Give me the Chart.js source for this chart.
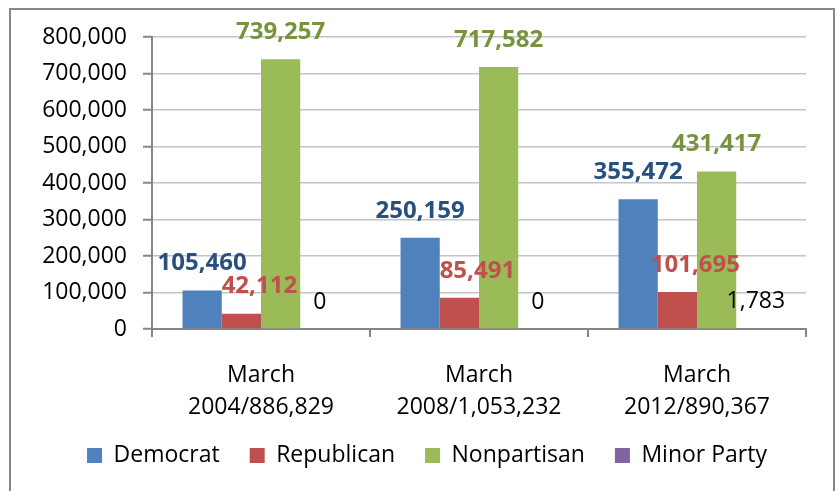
<!DOCTYPE html>
<html>
<head>
<meta charset="utf-8">
<script src="https://cdn.jsdelivr.net/npm/chart.js@4.4.1/dist/chart.umd.min.js"></script>
<style>
  html, body { margin: 0; padding: 0; background: #ffffff; }
  #wrap { position: relative; width: 839px; height: 491px; }
</style>
</head>
<body>
<div id="wrap"><canvas id="c" width="839" height="491"></canvas></div>
<script>
// ---- data ----
const categories = [["March", "2004/886,829"], ["March", "2008/1,053,232"], ["March", "2012/890,367"]];
const democrat    = [105460, 250159, 355472];
const republican  = [42112, 85491, 101695];
const nonpartisan = [739257, 717582, 431417];
const minorParty  = [0, 0, 1783];
const seriesNames = ["Democrat", "Republican", "Nonpartisan", "Minor Party"];
const yTicks = [0, 100000, 200000, 300000, 400000, 500000, 600000, 700000, 800000];

// ---- styles ----
const FONT = "'Open Sans', 'Noto Sans', sans-serif";
const barColors   = ["#4F81BD", "#C0504D", "#9BBB59", "#8064A2"];
const labelColors = ["#28507F", "#C0504D", "#77933C", "#000000"];
const labelBold   = [true, true, true, false];
const labelDx     = [0, 18, 0, 0];
const fmt = v => v.toLocaleString("en-US");

const dataLabels = {
  id: "dataLabels",
  afterDatasetsDraw(chart) {
    const ctx = chart.ctx;
    ctx.save();
    chart.data.datasets.forEach((ds, i) => {
      const meta = chart.getDatasetMeta(i);
      meta.data.forEach((bar, j) => {
        ctx.font = labelBold[i] ? "bold 24px " + FONT : "23px " + FONT;
        ctx.fillStyle = labelColors[i];
        ctx.textAlign = "center";
        ctx.textBaseline = "middle";
        ctx.fillText(fmt(ds.data[j]), bar.x + labelDx[i], bar.y - 27);
      });
    });
    ctx.restore();
  }
};

const frame = {
  id: "frame",
  afterInit(chart) {
    if (chart.legend) {
      const orig = chart.legend.fit;
      chart.legend.fit = function () {
        orig.call(this);
        this.height = 67;
      };
    }
  },
  afterLayout(chart) {
    const lg = chart.legend;
    if (lg) { lg.left += 24; lg.right += 24; lg.top -= 10; lg.bottom -= 10; }
  },
  afterDraw(chart) {
    const ctx = chart.ctx;
    ctx.save();
    ctx.strokeStyle = "#888888";
    ctx.lineWidth = 2;
    ctx.strokeRect(10, 9, 824, 490);
    ctx.restore();
  }
};

new Chart(document.getElementById("c"), {
  type: "bar",
  data: {
    labels: categories,
    datasets: [democrat, republican, nonpartisan, minorParty].map((d, i) => ({
      label: seriesNames[i],
      data: d,
      backgroundColor: barColors[i],
      borderWidth: 0,
      categoryPercentage: 0.72,
      barPercentage: 1.0
    }))
  },
  options: {
    responsive: false,
    animation: false,
    devicePixelRatio: 1,
    layout: { padding: { top: 37, right: 33, bottom: 0, left: 0 } },
    plugins: {
      legend: {
        position: "bottom",
        labels: {
          font: { family: FONT, size: 23 },
          color: "#000000",
          boxWidth: 15,
          boxHeight: 15,
          padding: 30
        }
      },
      tooltip: { enabled: false }
    },
    scales: {
      x: {
        offset: true,
        grid: {
          offset: true,
          drawOnChartArea: false,
          drawTicks: true,
          tickLength: 8,
          color: "#868686",
          lineWidth: 2
        },
        border: { color: "#868686", width: 2 },
        ticks: {
          font: { family: FONT, size: 23, lineHeight: 1.39 },
          color: "#000000",
          padding: 22,
          maxRotation: 0
        },
        afterFit(s) { s.height = 95; }
      },
      y: {
        min: 0,
        max: 800000,
        afterBuildTicks(s) { s.ticks = yTicks.map(v => ({ value: v })); },
        grid: {
          color: "#C4C4C4",
          lineWidth: 1.5,
          tickLength: 9,
          tickColor: "#868686",
          tickWidth: 2
        },
        border: { color: "#868686", width: 2 },
        ticks: {
          font: { family: FONT, size: 23 },
          color: "#000000",
          padding: 16,
          callback: v => fmt(v)
        },
        afterFit(s) { s.width = 152; }
      }
    }
  },
  plugins: [dataLabels, frame]
});
</script>
</body>
</html>
